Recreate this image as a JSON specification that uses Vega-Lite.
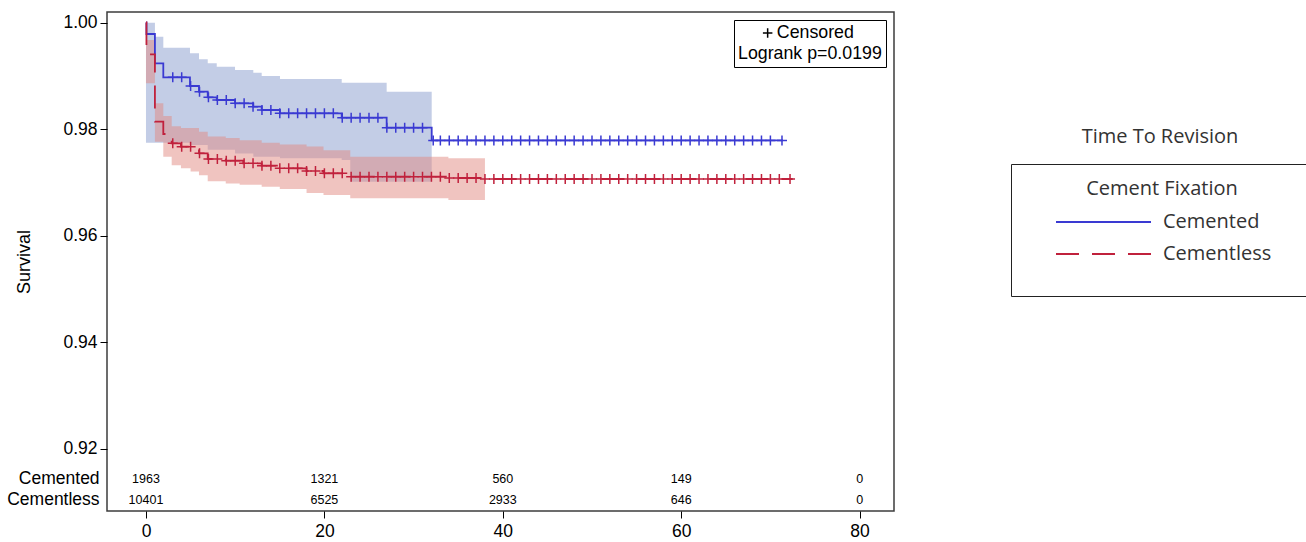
{
  "$schema": "https://vega.github.io/schema/vega-lite/v6.json",
  "autosize": "none",
  "padding": {"left": 107, "top": 12, "right": 412, "bottom": 31},
  "width": 787,
  "height": 499,
  "title": {
    "text": "Time To Revision",
    "font": "Open Sans",
    "fontSize": 20,
    "fontWeight": "normal",
    "color": "#333333",
    "anchor": "start",
    "align": "center",
    "frame": "group",
    "baseline": "middle",
    "offset": 0,
    "dx": 1053,
    "dy": 145
  },
  "config": {
    "font": "Liberation Sans",
    "view": {"stroke": "#3c3c3c", "strokeWidth": 1.5},
    "axis": {
      "grid": false,
      "domain": false,
      "tickColor": "#000000",
      "tickSize": 7,
      "labelFont": "Liberation Sans",
      "labelFontSize": 17.5,
      "labelColor": "#000000",
      "titleFont": "Liberation Sans",
      "titleFontSize": 18,
      "titleFontWeight": "normal",
      "titleColor": "#000000"
    }
  },
  "datasets": {
    "curve": [
      {"g": "Cemented", "t": 0, "s": 1.0},
      {"g": "Cemented", "t": 0.05, "s": 0.99784},
      {"g": "Cemented", "t": 1.0, "s": 0.99233},
      {"g": "Cemented", "t": 1.94, "s": 0.9897},
      {"g": "Cemented", "t": 4.93, "s": 0.98808},
      {"g": "Cemented", "t": 5.94, "s": 0.98701},
      {"g": "Cemented", "t": 6.92, "s": 0.98595},
      {"g": "Cemented", "t": 7.93, "s": 0.98545},
      {"g": "Cemented", "t": 9.98, "s": 0.98483},
      {"g": "Cemented", "t": 12.03, "s": 0.98419},
      {"g": "Cemented", "t": 12.97, "s": 0.98357},
      {"g": "Cemented", "t": 15.02, "s": 0.98295},
      {"g": "Cemented", "t": 21.94, "s": 0.98212},
      {"g": "Cemented", "t": 26.98, "s": 0.98025},
      {"g": "Cemented", "t": 32.03, "s": 0.97785},
      {"g": "Cemented", "t": 71.4, "s": 0.97785},
      {"g": "Cementless", "t": 0, "s": 1.0},
      {"g": "Cementless", "t": 0.05, "s": 0.994},
      {"g": "Cementless", "t": 1.0, "s": 0.98137},
      {"g": "Cementless", "t": 1.94, "s": 0.97906},
      {"g": "Cementless", "t": 2.88, "s": 0.97731},
      {"g": "Cementless", "t": 3.92, "s": 0.97668},
      {"g": "Cementless", "t": 5.94, "s": 0.97544},
      {"g": "Cementless", "t": 6.92, "s": 0.97437},
      {"g": "Cementless", "t": 8.94, "s": 0.97405},
      {"g": "Cementless", "t": 10.9, "s": 0.97356},
      {"g": "Cementless", "t": 12.97, "s": 0.97311},
      {"g": "Cementless", "t": 15.0, "s": 0.97262},
      {"g": "Cementless", "t": 18.0, "s": 0.97211},
      {"g": "Cementless", "t": 19.9, "s": 0.97168},
      {"g": "Cementless", "t": 22.8, "s": 0.97104},
      {"g": "Cementless", "t": 33.9, "s": 0.9708},
      {"g": "Cementless", "t": 37.7, "s": 0.97061},
      {"g": "Cementless", "t": 72.5, "s": 0.97061}
    ],
    "band": [
      {"g": "Cemented", "t": 0, "lo": 0.97743, "hi": 0.99995},
      {"g": "Cemented", "t": 1.0, "lo": 0.9774, "hi": 0.99733},
      {"g": "Cemented", "t": 1.94, "lo": 0.9774, "hi": 0.99527},
      {"g": "Cemented", "t": 4.93, "lo": 0.977, "hi": 0.99421},
      {"g": "Cemented", "t": 5.94, "lo": 0.977, "hi": 0.99309},
      {"g": "Cemented", "t": 6.92, "lo": 0.9761, "hi": 0.99233},
      {"g": "Cemented", "t": 7.93, "lo": 0.9761, "hi": 0.9917},
      {"g": "Cemented", "t": 9.98, "lo": 0.9754, "hi": 0.99108},
      {"g": "Cemented", "t": 12.03, "lo": 0.9748, "hi": 0.99058},
      {"g": "Cemented", "t": 12.97, "lo": 0.9748, "hi": 0.98995},
      {"g": "Cemented", "t": 15.02, "lo": 0.9745, "hi": 0.98939},
      {"g": "Cemented", "t": 21.94, "lo": 0.9742, "hi": 0.9887},
      {"g": "Cemented", "t": 22.9, "lo": 0.9701, "hi": 0.9887},
      {"g": "Cemented", "t": 26.98, "lo": 0.9701, "hi": 0.987},
      {"g": "Cemented", "t": 32.03, "lo": 0.9701, "hi": 0.987},
      {"g": "Cementless", "t": 0, "lo": 0.98858, "hi": 0.99671},
      {"g": "Cementless", "t": 1.0, "lo": 0.9776, "hi": 0.98483},
      {"g": "Cementless", "t": 1.94, "lo": 0.9748, "hi": 0.98244},
      {"g": "Cementless", "t": 2.88, "lo": 0.9732, "hi": 0.9805},
      {"g": "Cementless", "t": 3.92, "lo": 0.97262, "hi": 0.9802},
      {"g": "Cementless", "t": 5.0, "lo": 0.972, "hi": 0.9802},
      {"g": "Cementless", "t": 5.94, "lo": 0.9713, "hi": 0.9795},
      {"g": "Cementless", "t": 6.92, "lo": 0.9702, "hi": 0.9786},
      {"g": "Cementless", "t": 8.94, "lo": 0.96975, "hi": 0.9783},
      {"g": "Cementless", "t": 10.5, "lo": 0.96955, "hi": 0.9779},
      {"g": "Cementless", "t": 12.97, "lo": 0.96917, "hi": 0.9774},
      {"g": "Cementless", "t": 15.0, "lo": 0.96873, "hi": 0.9771},
      {"g": "Cementless", "t": 18.0, "lo": 0.968, "hi": 0.9767},
      {"g": "Cementless", "t": 19.9, "lo": 0.96761, "hi": 0.976},
      {"g": "Cementless", "t": 22.9, "lo": 0.967, "hi": 0.9748},
      {"g": "Cementless", "t": 33.9, "lo": 0.96667, "hi": 0.9745},
      {"g": "Cementless", "t": 38.0, "lo": 0.96667, "hi": 0.9745}
    ],
    "censor": [
      {"g": "Cemented", "t": 3, "s": 0.9897}, {"g": "Cemented", "t": 4, "s": 0.9897},
      {"g": "Cemented", "t": 5, "s": 0.98808}, {"g": "Cemented", "t": 6, "s": 0.98701},
      {"g": "Cemented", "t": 7, "s": 0.98595}, {"g": "Cemented", "t": 8, "s": 0.98545},
      {"g": "Cemented", "t": 9, "s": 0.98545}, {"g": "Cemented", "t": 10, "s": 0.98483},
      {"g": "Cemented", "t": 11, "s": 0.98483}, {"g": "Cemented", "t": 12, "s": 0.98419},
      {"g": "Cemented", "t": 13, "s": 0.98357}, {"g": "Cemented", "t": 14, "s": 0.98357},
      {"g": "Cemented", "t": 15, "s": 0.98295}, {"g": "Cemented", "t": 16, "s": 0.98295},
      {"g": "Cemented", "t": 17, "s": 0.98295}, {"g": "Cemented", "t": 18, "s": 0.98295},
      {"g": "Cemented", "t": 19, "s": 0.98295}, {"g": "Cemented", "t": 20, "s": 0.98295},
      {"g": "Cemented", "t": 21, "s": 0.98295}, {"g": "Cemented", "t": 22, "s": 0.98212},
      {"g": "Cemented", "t": 23, "s": 0.98212}, {"g": "Cemented", "t": 24, "s": 0.98212},
      {"g": "Cemented", "t": 25, "s": 0.98212}, {"g": "Cemented", "t": 26, "s": 0.98212},
      {"g": "Cemented", "t": 27, "s": 0.98025}, {"g": "Cemented", "t": 28, "s": 0.98025},
      {"g": "Cemented", "t": 29, "s": 0.98025}, {"g": "Cemented", "t": 30, "s": 0.98025},
      {"g": "Cemented", "t": 31, "s": 0.98025}, {"g": "Cemented", "t": 32.2, "s": 0.97785},
      {"g": "Cemented", "t": 33, "s": 0.97785}, {"g": "Cemented", "t": 34, "s": 0.97785},
      {"g": "Cemented", "t": 35, "s": 0.97785}, {"g": "Cemented", "t": 36, "s": 0.97785},
      {"g": "Cemented", "t": 37, "s": 0.97785}, {"g": "Cemented", "t": 38, "s": 0.97785},
      {"g": "Cemented", "t": 39, "s": 0.97785}, {"g": "Cemented", "t": 40, "s": 0.97785},
      {"g": "Cemented", "t": 41, "s": 0.97785}, {"g": "Cemented", "t": 42, "s": 0.97785},
      {"g": "Cemented", "t": 43, "s": 0.97785}, {"g": "Cemented", "t": 44, "s": 0.97785},
      {"g": "Cemented", "t": 45, "s": 0.97785}, {"g": "Cemented", "t": 46, "s": 0.97785},
      {"g": "Cemented", "t": 47, "s": 0.97785}, {"g": "Cemented", "t": 48, "s": 0.97785},
      {"g": "Cemented", "t": 49, "s": 0.97785}, {"g": "Cemented", "t": 50, "s": 0.97785},
      {"g": "Cemented", "t": 51, "s": 0.97785}, {"g": "Cemented", "t": 52, "s": 0.97785},
      {"g": "Cemented", "t": 53, "s": 0.97785}, {"g": "Cemented", "t": 54, "s": 0.97785},
      {"g": "Cemented", "t": 55, "s": 0.97785}, {"g": "Cemented", "t": 56, "s": 0.97785},
      {"g": "Cemented", "t": 57, "s": 0.97785}, {"g": "Cemented", "t": 58, "s": 0.97785},
      {"g": "Cemented", "t": 59, "s": 0.97785}, {"g": "Cemented", "t": 60, "s": 0.97785},
      {"g": "Cemented", "t": 61, "s": 0.97785}, {"g": "Cemented", "t": 62, "s": 0.97785},
      {"g": "Cemented", "t": 63, "s": 0.97785}, {"g": "Cemented", "t": 64, "s": 0.97785},
      {"g": "Cemented", "t": 65, "s": 0.97785}, {"g": "Cemented", "t": 66, "s": 0.97785},
      {"g": "Cemented", "t": 67, "s": 0.97785}, {"g": "Cemented", "t": 68, "s": 0.97785},
      {"g": "Cemented", "t": 69, "s": 0.97785}, {"g": "Cemented", "t": 70, "s": 0.97785},
      {"g": "Cemented", "t": 71.3, "s": 0.97785},
      {"g": "Cementless", "t": 3, "s": 0.97731}, {"g": "Cementless", "t": 4, "s": 0.97668},
      {"g": "Cementless", "t": 5, "s": 0.97668}, {"g": "Cementless", "t": 6, "s": 0.97544},
      {"g": "Cementless", "t": 7, "s": 0.97437}, {"g": "Cementless", "t": 8, "s": 0.97437},
      {"g": "Cementless", "t": 9, "s": 0.97405}, {"g": "Cementless", "t": 10, "s": 0.97405},
      {"g": "Cementless", "t": 11, "s": 0.97356}, {"g": "Cementless", "t": 12, "s": 0.97356},
      {"g": "Cementless", "t": 13, "s": 0.97311}, {"g": "Cementless", "t": 14, "s": 0.97311},
      {"g": "Cementless", "t": 15, "s": 0.97262}, {"g": "Cementless", "t": 16, "s": 0.97262},
      {"g": "Cementless", "t": 17, "s": 0.97262}, {"g": "Cementless", "t": 18, "s": 0.97211},
      {"g": "Cementless", "t": 19, "s": 0.97211}, {"g": "Cementless", "t": 20, "s": 0.97168},
      {"g": "Cementless", "t": 21, "s": 0.97168}, {"g": "Cementless", "t": 22, "s": 0.97168},
      {"g": "Cementless", "t": 23, "s": 0.97104}, {"g": "Cementless", "t": 24, "s": 0.97104},
      {"g": "Cementless", "t": 25, "s": 0.97104}, {"g": "Cementless", "t": 26, "s": 0.97104},
      {"g": "Cementless", "t": 27, "s": 0.97104}, {"g": "Cementless", "t": 28, "s": 0.97104},
      {"g": "Cementless", "t": 29, "s": 0.97104}, {"g": "Cementless", "t": 30, "s": 0.97104},
      {"g": "Cementless", "t": 31, "s": 0.97104}, {"g": "Cementless", "t": 32, "s": 0.97104},
      {"g": "Cementless", "t": 33, "s": 0.97104}, {"g": "Cementless", "t": 34, "s": 0.9708},
      {"g": "Cementless", "t": 35, "s": 0.9708}, {"g": "Cementless", "t": 36, "s": 0.9708},
      {"g": "Cementless", "t": 37, "s": 0.9708}, {"g": "Cementless", "t": 38, "s": 0.97061},
      {"g": "Cementless", "t": 39, "s": 0.97061}, {"g": "Cementless", "t": 40, "s": 0.97061},
      {"g": "Cementless", "t": 41, "s": 0.97061}, {"g": "Cementless", "t": 42, "s": 0.97061},
      {"g": "Cementless", "t": 43, "s": 0.97061}, {"g": "Cementless", "t": 44, "s": 0.97061},
      {"g": "Cementless", "t": 45, "s": 0.97061}, {"g": "Cementless", "t": 46, "s": 0.97061},
      {"g": "Cementless", "t": 47, "s": 0.97061}, {"g": "Cementless", "t": 48, "s": 0.97061},
      {"g": "Cementless", "t": 49, "s": 0.97061}, {"g": "Cementless", "t": 50, "s": 0.97061},
      {"g": "Cementless", "t": 51, "s": 0.97061}, {"g": "Cementless", "t": 52, "s": 0.97061},
      {"g": "Cementless", "t": 53, "s": 0.97061}, {"g": "Cementless", "t": 54, "s": 0.97061},
      {"g": "Cementless", "t": 55, "s": 0.97061}, {"g": "Cementless", "t": 56, "s": 0.97061},
      {"g": "Cementless", "t": 57, "s": 0.97061}, {"g": "Cementless", "t": 58, "s": 0.97061},
      {"g": "Cementless", "t": 59, "s": 0.97061}, {"g": "Cementless", "t": 60, "s": 0.97061},
      {"g": "Cementless", "t": 61, "s": 0.97061}, {"g": "Cementless", "t": 62, "s": 0.97061},
      {"g": "Cementless", "t": 63, "s": 0.97061}, {"g": "Cementless", "t": 64, "s": 0.97061},
      {"g": "Cementless", "t": 65, "s": 0.97061}, {"g": "Cementless", "t": 66, "s": 0.97061},
      {"g": "Cementless", "t": 67, "s": 0.97061}, {"g": "Cementless", "t": 68, "s": 0.97061},
      {"g": "Cementless", "t": 69, "s": 0.97061}, {"g": "Cementless", "t": 70, "s": 0.97061},
      {"g": "Cementless", "t": 71, "s": 0.97061}, {"g": "Cementless", "t": 72.2, "s": 0.97061}
    ],
    "risk": [
      {"g": "Cemented", "t": 0, "n": 1963},
      {"g": "Cemented", "t": 20, "n": 1321},
      {"g": "Cemented", "t": 40, "n": 560},
      {"g": "Cemented", "t": 60, "n": 149},
      {"g": "Cemented", "t": 80, "n": 0},
      {"g": "Cementless", "t": 0, "n": 10401},
      {"g": "Cementless", "t": 20, "n": 6525},
      {"g": "Cementless", "t": 40, "n": 2933},
      {"g": "Cementless", "t": 60, "n": 646},
      {"g": "Cementless", "t": 80, "n": 0}
    ]
  },
  "encoding": {
    "x": {
      "type": "quantitative",
      "scale": {"domain": [-4.372, 83.857], "nice": false, "zero": false},
      "axis": {"values": [0, 20, 40, 60, 80], "title": null, "labelPadding": 4}
    },
    "y": {
      "type": "quantitative",
      "scale": {"domain": [0.908263, 1.001972], "nice": false, "zero": false},
      "axis": {
        "values": [0.92, 0.94, 0.96, 0.98, 1.0],
        "format": ".2f",
        "title": "Survival",
        "labelPadding": 3,
        "titlePadding": 29
      }
    }
  },
  "layer": [
    {
      "data": {"name": "band"},
      "mark": {"type": "area", "interpolate": "step-after", "opacity": 0.5},
      "encoding": {
        "x": {"field": "t", "type": "quantitative"},
        "y": {"field": "lo", "type": "quantitative"},
        "y2": {"field": "hi"},
        "fill": {
          "field": "g",
          "type": "nominal",
          "scale": {"range": ["#879bcd", "#e18981"]},
          "legend": null
        }
      }
    },
    {
      "data": {"name": "curve"},
      "mark": {"type": "line", "interpolate": "step-after", "strokeWidth": 1.8},
      "encoding": {
        "x": {"field": "t", "type": "quantitative"},
        "y": {"field": "s", "type": "quantitative"},
        "color": {
          "field": "g",
          "type": "nominal",
          "scale": {"domain": ["Cemented", "Cementless"], "range": ["#3a3ad2", "#c0213c"]},
          "legend": {
            "title": "Cement Fixation",
            "orient": "none",
            "legendX": 904,
            "legendY": 152,
            "padding": 15,
            "strokeColor": "#222222",
            "titleFont": "Open Sans",
            "titleFontSize": 20,
            "titleFontWeight": "normal",
            "titleColor": "#333333",
            "titleAnchor": "middle",
            "titleAlign": "center",
            "titlePadding": 1,
            "labelFont": "Open Sans",
            "labelFontSize": 20,
            "labelColor": "#333333",
            "labelOffset": 37.5,
            "symbolType": "M-2.262,0H2.262",
            "symbolSize": 1764,
            "symbolStrokeWidth": 2,
            "symbolOffset": 55.5,
            "rowPadding": 0,
            "encode": {
              "symbols": {
                "update": {
                  "shape": {"signal": "datum.value === 'Cementless' ? 'M-2.262,0H2.262M9.1,1.05' : 'M-2.262,0H2.262'"}
                }
              }
            }
          }
        },
        "strokeDash": {
          "field": "g",
          "type": "nominal",
          "scale": {"domain": ["Cemented", "Cementless"], "range": [[1, 0], [23, 13]]},
          "legend": {
            "title": "Cement Fixation",
            "orient": "none",
            "legendX": 904,
            "legendY": 152,
            "padding": 15,
            "strokeColor": "#222222",
            "titleFont": "Open Sans",
            "titleFontSize": 20,
            "titleFontWeight": "normal",
            "titleColor": "#333333",
            "titleAnchor": "middle",
            "titleAlign": "center",
            "titlePadding": 1,
            "labelFont": "Open Sans",
            "labelFontSize": 20,
            "labelColor": "#333333",
            "labelOffset": 37.5,
            "symbolType": "M-2.262,0H2.262",
            "symbolSize": 1764,
            "symbolStrokeWidth": 2,
            "symbolOffset": 55.5,
            "rowPadding": 0,
            "encode": {
              "symbols": {
                "update": {
                  "shape": {"signal": "datum.value === 'Cementless' ? 'M-2.262,0H2.262M9.1,1.05' : 'M-2.262,0H2.262'"}
                }
              }
            }
          }
        }
      }
    },
    {
      "data": {"name": "censor"},
      "mark": {"type": "point", "filled": false, "strokeWidth": 1.5, "size": 100, "opacity": 1},
      "encoding": {
        "x": {"field": "t", "type": "quantitative"},
        "y": {"field": "s", "type": "quantitative"},
        "stroke": {
          "field": "g",
          "type": "nominal",
          "scale": {"range": ["#3a3ad2", "#c0213c"]},
          "legend": null
        },
        "shape": {
          "datum": "Censored",
          "scale": {"range": ["M-1,0H1M0,-1V1"]},
          "legend": {
            "title": "Logrank p=0.0199",
            "orient": "top-right",
            "offset": 8,
            "padding": 4,
            "strokeColor": "#000000",
            "titleOrient": "bottom",
            "titleFont": "Liberation Sans",
            "titleFontSize": 17.8,
            "titleFontWeight": "normal",
            "titleColor": "#000000",
            "titleAnchor": "start",
            "titleAlign": "left",
            "titlePadding": 3,
            "labelFont": "Liberation Sans",
            "labelFontSize": 17.8,
            "labelColor": "#000000",
            "labelOffset": 0.25,
            "symbolOffset": 20.75,
            "symbolSize": 90,
            "symbolStrokeWidth": 1.5,
            "symbolStrokeColor": "#000000",
            "symbolFillColor": "transparent"
          }
        }
      }
    },
    {
      "data": {"name": "risk"},
      "transform": [{"filter": "datum.g === 'Cemented'"}],
      "layer": [
        {
          "mark": {"type": "text", "fontSize": 12.5, "color": "#000000", "baseline": "middle"},
          "encoding": {
            "x": {"field": "t", "type": "quantitative"},
            "y": {"datum": 0.91423, "type": "quantitative"},
            "text": {"field": "n", "type": "quantitative"}
          }
        },
        {
          "transform": [{"filter": "datum.t === 0"}],
          "mark": {"type": "text", "fontSize": 17.5, "color": "#000000", "align": "right", "baseline": "middle"},
          "encoding": {
            "x": {"datum": -5.2, "type": "quantitative"},
            "y": {"datum": 0.91423, "type": "quantitative"},
            "text": {"field": "g", "type": "nominal"}
          }
        }
      ]
    },
    {
      "data": {"name": "risk"},
      "transform": [{"filter": "datum.g === 'Cementless'"}],
      "layer": [
        {
          "mark": {"type": "text", "fontSize": 12.5, "color": "#000000", "baseline": "middle"},
          "encoding": {
            "x": {"field": "t", "type": "quantitative"},
            "y": {"datum": 0.91029, "type": "quantitative"},
            "text": {"field": "n", "type": "quantitative"}
          }
        },
        {
          "transform": [{"filter": "datum.t === 0"}],
          "mark": {"type": "text", "fontSize": 17.5, "color": "#000000", "align": "right", "baseline": "middle"},
          "encoding": {
            "x": {"datum": -5.2, "type": "quantitative"},
            "y": {"datum": 0.91029, "type": "quantitative"},
            "text": {"field": "g", "type": "nominal"}
          }
        }
      ]
    }
  ]
}
